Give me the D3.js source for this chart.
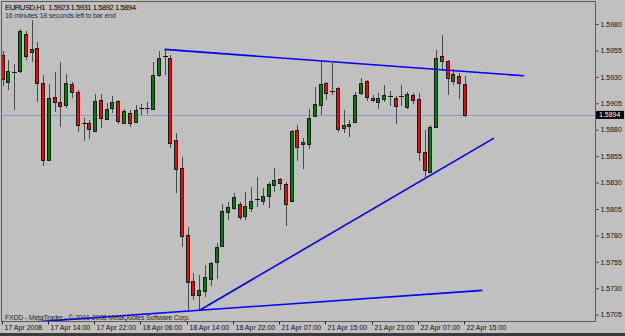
<!DOCTYPE html>
<html>
<head>
<meta charset="utf-8">
<script src="https://cdn.jsdelivr.net/npm/d3@7"></script>
<style>
body{margin:0;background:#c0c0c0;}
svg{display:block;}
text{font-family:"Liberation Sans",Arial,sans-serif;}
</style>
</head>
<body>
<svg id="chart" width="625" height="336"></svg>
<script>
// EURUSD H1 bars, 17 Apr 2008 06:00 .. 22 Apr 2008 15:00
const opens =[1.5951,1.5926,1.5935,1.5935,1.5971,1.5953,1.5957,1.5924,1.5851,1.5911,
              1.5906,1.5903,1.5923,1.5916,1.5886,1.5886,1.5879,1.5908,1.5891,1.5900,
              1.5907,1.5887,1.5896,1.5888,1.5901,1.5901,1.5900,1.5932,1.5950,1.5948,
              1.5870,1.5844,1.5780,1.5737,1.5723,1.5728,1.5739,1.5755,1.5770,1.5802,
              1.5806,1.5810,1.5799,1.5806,1.5814,1.5812,1.5818,1.5827,1.5833,1.5829,
              1.5813,1.5880,1.5866,1.5866,1.5893,1.5903,1.5924,1.5917,1.5919,1.5881,
              1.5883,1.5887,1.5915,1.5926,1.5910,1.5906,1.5909,1.5912,1.5910,1.5912,
              1.5902,1.5913,1.5909,1.5859,1.5840,1.5883,1.5950,1.5945,1.5926,1.5931,
              1.5923];
const highs =[1.5954,1.5946,1.5942,1.5975,1.5973,1.5984,1.5963,1.5932,1.5923,1.5935,
              1.5944,1.5933,1.5925,1.5918,1.5891,1.5889,1.5914,1.5914,1.5905,1.5912,
              1.5908,1.5900,1.5899,1.5903,1.5904,1.5906,1.5944,1.5954,1.5956,1.5951,
              1.5877,1.5854,1.5788,1.5744,1.5743,1.5752,1.5755,1.5773,1.5810,1.5812,
              1.5820,1.5812,1.5821,1.5826,1.5835,1.5825,1.5831,1.5844,1.5834,1.5831,
              1.5880,1.5884,1.5872,1.5900,1.5920,1.5946,1.5925,1.5943,1.5920,1.5899,
              1.5889,1.5916,1.5929,1.5927,1.5913,1.5915,1.5922,1.5917,1.5912,1.5922,
              1.5916,1.5915,1.5915,1.5880,1.5884,1.5955,1.5970,1.5946,1.5937,1.5934,
              1.5931];
const lows  =[1.5921,1.5918,1.5899,1.5934,1.5946,1.5944,1.5906,1.5846,1.5850,1.5897,
              1.5883,1.5901,1.5910,1.5878,1.5869,1.5871,1.5878,1.5882,1.5889,1.5896,
              1.5885,1.5885,1.5883,1.5887,1.5894,1.5895,1.5899,1.5930,1.5932,1.5863,
              1.5820,1.5769,1.5709,1.5719,1.5709,1.5722,1.5732,1.5739,1.5769,1.5795,
              1.5804,1.5795,1.5795,1.5802,1.5807,1.5809,1.5806,1.5821,1.5823,1.5789,
              1.5812,1.5850,1.5843,1.5862,1.5892,1.5894,1.5908,1.5913,1.5878,1.5877,
              1.5873,1.5886,1.5913,1.5907,1.5906,1.5900,1.5906,1.5902,1.5885,1.5902,
              1.5900,1.5904,1.5850,1.5835,1.5839,1.5882,1.5936,1.5913,1.5922,1.5909,
              1.5892];
const closes=[1.5928,1.5936,1.5935,1.5973,1.5950,1.5956,1.5924,1.5851,1.5910,1.5906,
              1.5902,1.5924,1.5915,1.5885,1.5886,1.5880,1.5907,1.5891,1.5900,1.5906,
              1.5888,1.5898,1.5887,1.5899,1.5901,1.5901,1.5932,1.5948,1.5950,1.5868,
              1.5843,1.5780,1.5736,1.5724,1.5728,1.5741,1.5754,1.5769,1.5803,1.5807,
              1.5816,1.5798,1.5808,1.5813,1.5814,1.5817,1.5829,1.5832,1.5829,1.5810,
              1.5879,1.5864,1.5868,1.5891,1.5904,1.5923,1.5915,1.5917,1.5880,1.5884,
              1.5885,1.5913,1.5924,1.5911,1.5908,1.5910,1.5913,1.5912,1.5902,1.5912,
              1.5914,1.5908,1.5859,1.5842,1.5883,1.5948,1.5945,1.5929,1.5933,1.5924,
              1.5894];

const priceTicks=[1.5980,1.5955,1.5930,1.5905,1.5880,1.5855,1.5830,1.5805,1.5780,1.5755,1.5730,1.5705];
const timeTickBars=[0,8,16,24,32,40,48,56,64,72,80];
const timeTickLabels=["17 Apr 2008","17 Apr 14:00","17 Apr 22:00","18 Apr 06:00","18 Apr 14:00",
                      "18 Apr 22:00","21 Apr 07:00","21 Apr 15:00","21 Apr 23:00","22 Apr 07:00","22 Apr 15:00"];

// trendlines as [bar, price] pairs
const trendTop=[[28,1.5956],[90.2,1.5931]];
const trendRise=[[34,1.5709],[85,1.5872]];
const trendFlat=[[5,1.5698],[83,1.5728]];

const symbolText="EURUSD,H1  1.5923 1.5931 1.5892 1.5894";
const timerText="16 minutes 18 seconds left to bar end";
const footerText="FXDD - MetaTrader - \u00a9 2001-2008 MetaQuotes Software Corp.";
const lastPrice=1.5894;

const plotLeft=2, plotTop=2, plotRight=595, plotBottom=321;

var svg=d3.select("#chart");

svg.append("rect").attr("width",625).attr("height",336).attr("fill","#c0c0c0");
svg.append("rect").attr("x",0).attr("y",333).attr("width",625).attr("height",3).attr("fill","#3c3c3c");

var x=d3.scaleLinear().domain([0,80]).range([2.7,465]);
var y=d3.scaleLinear().domain([1.5705,1.5980]).range([314.7,24]);

svg.append("clipPath").attr("id","plotclip")
    .append("rect").attr("x",plotLeft).attr("y",plotTop)
    .attr("width",plotRight-plotLeft).attr("height",plotBottom-plotTop);

var plot=svg.append("g").attr("clip-path","url(#plotclip)");

// last price line
plot.append("line")
    .attr("x1",plotLeft).attr("x2",plotRight)
    .attr("y1",Math.round(y(lastPrice))+0.5).attr("y2",Math.round(y(lastPrice))+0.5)
    .attr("stroke","#8e9cb8").attr("stroke-width",1);

var bars=d3.range(opens.length).map(i=>({i:i,o:opens[i],h:highs[i],l:lows[i],c:closes[i]}));

var candle=plot.selectAll("g.candle").data(bars).enter().append("g")
    .attr("class","candle")
    .attr("shape-rendering","crispEdges");

candle.append("line")
    .attr("x1",d=>Math.round(x(d.i))+0.5).attr("x2",d=>Math.round(x(d.i))+0.5)
    .attr("y1",d=>y(d.h)).attr("y2",d=>y(d.l))
    .attr("stroke","#4a4a4a");

candle.filter(d=>d.o!==d.c).append("rect")
    .attr("x",d=>Math.round(x(d.i))-1.5)
    .attr("width",3)
    .attr("y",d=>Math.round(y(Math.max(d.o,d.c)))+0.5)
    .attr("height",d=>Math.max(1,Math.round(Math.abs(y(d.o)-y(d.c)))))
    .attr("fill",d=>d.c>d.o?"#008000":"#ff0000")
    .attr("stroke","#1a1a1a");

candle.filter(d=>d.o===d.c).append("line")
    .attr("x1",d=>Math.round(x(d.i))-2).attr("x2",d=>Math.round(x(d.i))+3)
    .attr("y1",d=>Math.round(y(d.o))+0.5).attr("y2",d=>Math.round(y(d.o))+0.5)
    .attr("stroke","#000");

// trendlines
var trend=d3.line().x(d=>x(d[0])).y(d=>y(d[1]));
plot.selectAll("path.trend").data([trendTop,trendRise,trendFlat]).enter().append("path")
    .attr("class","trend")
    .attr("d",trend)
    .attr("fill","none")
    .attr("stroke","#0000ff")
    .attr("stroke-width",1.6);

// frame
svg.append("rect")
    .attr("x",plotLeft-0.5).attr("y",plotTop-0.5)
    .attr("width",plotRight-plotLeft+1).attr("height",plotBottom-plotTop+1)
    .attr("fill","none").attr("stroke","#5c5c5c");

// price axis
var yAxis=svg.append("g")
    .attr("transform","translate("+(plotRight+0.5)+",0)")
    .call(d3.axisRight(y).tickValues(priceTicks).tickFormat(d3.format(".4f")).tickSize(3).tickPadding(2));
yAxis.select(".domain").remove();
yAxis.selectAll(".tick line").attr("x1",1).attr("stroke","#222");
yAxis.selectAll(".tick text").style("font-size","7px").attr("fill","#111")
    .attr("font-family","Liberation Sans, Arial, sans-serif");

// last price tag
var tag=svg.append("g").attr("transform","translate(596,"+y(lastPrice)+")");
tag.append("rect").attr("x",0).attr("y",-4).attr("width",28).attr("height",8).attr("fill","#000");
tag.append("text").attr("x",3).attr("dy","0.33em")
    .style("font-size","7px").attr("fill","#fff").text(d3.format(".4f")(lastPrice));

// time axis
var xAxis=svg.append("g")
    .attr("transform","translate(0,"+(plotBottom+0.5)+")")
    .call(d3.axisBottom(x).tickValues(timeTickBars).tickFormat((d,i)=>timeTickLabels[i]).tickSize(3).tickPadding(1));
xAxis.select(".domain").remove();
xAxis.selectAll(".tick").attr("transform",d=>"translate("+(Math.round(x(d))-0.5)+",0)");
xAxis.selectAll(".tick line").attr("stroke","#222");
xAxis.selectAll(".tick text").attr("text-anchor","start").attr("x",2)
    .style("font-size","7px").attr("fill","#111")
    .attr("font-family","Liberation Sans, Arial, sans-serif");

// captions
svg.append("text").attr("x",5).attr("y",10).style("font-size","7.8px").style("white-space","pre")
    .attr("textLength",131).attr("lengthAdjust","spacing")
    .attr("fill","#000").text(symbolText);
svg.append("text").attr("x",5).attr("y",17.5).style("font-size","7.2px")
    .attr("textLength",111).attr("lengthAdjust","spacing")
    .attr("fill","#27324d").text(timerText);
svg.append("text").attr("x",5).attr("y",320).style("font-size","7px")
    .attr("textLength",185).attr("lengthAdjust","spacing")
    .attr("fill","#2a2a2a").text(footerText);
</script>
</body>
</html>
